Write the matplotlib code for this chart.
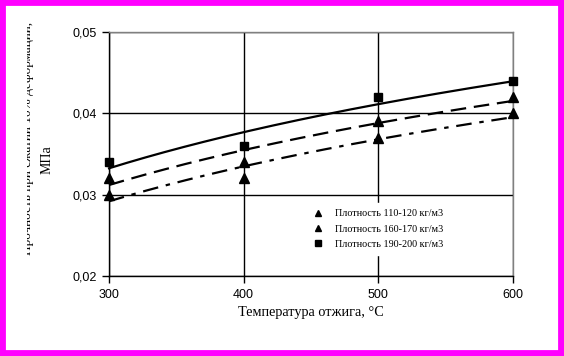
import numpy as np
import matplotlib
matplotlib.use("Agg")
import matplotlib.pyplot as plt
from matplotlib.lines import Line2D
from matplotlib.patches import Rectangle
from matplotlib.transforms import Bbox, TransformedBbox

# ---- data ----
temps = [300, 400, 500, 600]
s110 = [0.030, 0.032, 0.037, 0.040]
s160 = [0.032, 0.034, 0.039, 0.042]
s190 = [0.034, 0.036, 0.042, 0.044]
labels = ["Плотность 110-120 кг/м3", "Плотность 160-170 кг/м3", "Плотность 190-200 кг/м3"]
xticks = [300, 400, 500, 600]
yticks = [0.02, 0.03, 0.04, 0.05]
ytick_labels = ["0,02", "0,03", "0,04", "0,05"]
xlabel = "Температура отжига, °С"
ylabel1 = "Прочность при сжатии 10% деформации,"
ylabel2 = "МПа"

W, H = 564, 356
fig = plt.figure(figsize=(W / 100, H / 100), dpi=100)
fig.patch.set_facecolor("white")

# magenta frame
fig.patches.append(Rectangle((0, 0), 1, 1, transform=fig.transFigure,
                             facecolor="none", edgecolor="#ff00ff",
                             linewidth=8.5, zorder=0))

L, R, T, B = 109, 513, 32, 276
ax = fig.add_axes([L / W, (H - B) / H, (R - L) / W, (B - T) / H])

ax.set_xlim(300, 600)
ax.set_ylim(0.02, 0.05)
ax.set_xticks(xticks)
ax.set_yticks(yticks)
ax.set_yticklabels(ytick_labels)
ax.grid(True, color="black", linewidth=1.0)
ax.set_axisbelow(True)

for side in ["top", "right"]:
    ax.spines[side].set_color("#808080")
    ax.spines[side].set_linewidth(1.0)
for side in ["left", "bottom"]:
    ax.spines[side].set_color("black")
    ax.spines[side].set_linewidth(1.0)

ax.tick_params(axis="both", direction="out", length=5, width=1, color="black",
               labelsize=9, pad=4)
for lab in ax.get_xticklabels() + ax.get_yticklabels():
    lab.set_fontfamily("Liberation Sans")

# trend lines (logarithmic fits)
xs = np.linspace(300, 600, 200)
styles = [
    (s110, (0, (7, 3.5, 2, 3.5)), "^", 7.5),
    (s160, (0, (7, 3.5)), "^", 7.5),
    (s190, "-", "s", 6),
]
for ys, ls, mk, ms in styles:
    a, b = np.polyfit(np.log(temps), ys, 1)
    ax.plot(xs, a * np.log(xs) + b, color="black", linewidth=1.6,
            linestyle=ls, clip_on=False, zorder=3)
    ax.plot(temps, ys, linestyle="none", marker=mk, markersize=ms,
            color="black", clip_on=False, zorder=4)

handles = [
    Line2D([], [], linestyle="none", marker="^", markersize=4.5, color="black"),
    Line2D([], [], linestyle="none", marker="^", markersize=4.5, color="black"),
    Line2D([], [], linestyle="none", marker="s", markersize=4, color="black"),
]
leg = ax.legend(handles, labels, loc="upper left",
                bbox_to_anchor=((306 - L) / (R - L), (B - 203) / (B - T)),
                frameon=True, fancybox=False, framealpha=1.0,
                edgecolor="white", facecolor="white",
                prop={"family": "Liberation Serif", "size": 7.3},
                handlelength=1.2, handletextpad=1.1, labelspacing=0.62,
                borderpad=0.6, borderaxespad=0.0)
leg.set_zorder(5)

ax.set_xlabel(xlabel, fontfamily="Liberation Serif", fontsize=10.3, labelpad=4)

t1 = fig.text(34 / W, 1 - 138 / H, ylabel1, rotation=90, ha="right", va="center",
              fontfamily="Liberation Serif", fontsize=9.5)
clip = TransformedBbox(Bbox([[27 / W, 0], [40 / W, 1]]), fig.transFigure)
t1.set_clip_box(clip)
t1.set_clip_on(True)
fig.text(54 / W, 1 - 160 / H, ylabel2, rotation=90, ha="right", va="center",
         fontfamily="Liberation Serif", fontsize=10)

fig.savefig("out.png", dpi=100, facecolor="white")
